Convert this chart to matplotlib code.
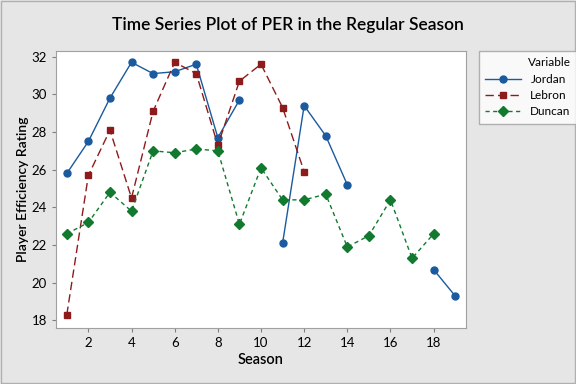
import numpy as np
import matplotlib
matplotlib.use('Agg')
import matplotlib.pyplot as plt

nan = np.nan
seasons = list(range(1, 20))
jordan = [25.8, 27.5, 29.8, 31.7, 31.1, 31.2, 31.6, 27.7, 29.7, nan,
          22.1, 29.4, 27.8, 25.2, nan, nan, nan, 20.7, 19.3]
lebron = [18.3, 25.7, 28.1, 24.5, 29.1, 31.7, 31.1, 27.3, 30.7, 31.6,
          29.3, 25.9, nan, nan, nan, nan, nan, nan, nan]
duncan = [22.6, 23.2, 24.8, 23.8, 27.0, 26.9, 27.1, 27.0, 23.1, 26.1,
          24.4, 24.4, 24.7, 21.9, 22.5, 24.4, 21.3, 22.6, nan]
xticks = [2, 4, 6, 8, 10, 12, 14, 16, 18]
yticks = [18, 20, 22, 24, 26, 28, 30, 32]

plt.rcParams['font.family'] = ['Lato', 'DejaVu Sans']

fig = plt.figure(figsize=(5.76, 3.84), dpi=100, facecolor='#e6e6e6')
ax = fig.add_axes([56/576, 1-328/384, 410/576, 277/384])

ax.plot(seasons, jordan, '-', color='#1a5a9e', marker='o', markersize=5, lw=1.0, label='Jordan')
ax.plot(seasons, lebron, '--', color='#8e1b1b', marker='s', markersize=5, lw=1.0,
        dashes=(6, 3), label='Lebron')
ax.plot(seasons, duncan, '--', color='#117a2e', marker='D', markersize=5, lw=1.0,
        dashes=(3, 2.5), label='Duncan')

ax.set_xlim(0.5, 19.5)
ax.set_ylim(17.6, 32.3)
ax.set_xticks(xticks)
ax.set_yticks(yticks)
ax.tick_params(labelsize=9.5, length=3, color='#808080')
for s in ax.spines.values():
    s.set_color('#a0a0a0')
ax.set_xlabel('Season', fontsize=10.5, fontweight='semibold', labelpad=3)
ax.set_ylabel('Player Efficiency Rating', fontsize=10, fontweight='semibold', labelpad=2)
fig.suptitle('Time Series Plot of PER in the Regular Season', fontsize=12.5,
             fontweight='semibold', y=0.955)

leg = fig.legend(loc='upper left', bbox_to_anchor=(479/576, 1-51/384), title='Variable',
                 fontsize=8.5, title_fontsize=8.5, frameon=True, fancybox=False,
                 handlelength=3, borderaxespad=0, borderpad=0.55, labelspacing=0.45)
leg._legend_box.align = 'right'
leg.get_frame().set_edgecolor('#a0a0a0')
leg.get_frame().set_linewidth(1)

fig.patches.append(plt.Rectangle((0.002, 0.003), 0.996, 0.994, transform=fig.transFigure,
                                 fill=False, edgecolor='#b0b0b0', lw=1))

fig.savefig('out.png', dpi=100, facecolor=fig.get_facecolor())
